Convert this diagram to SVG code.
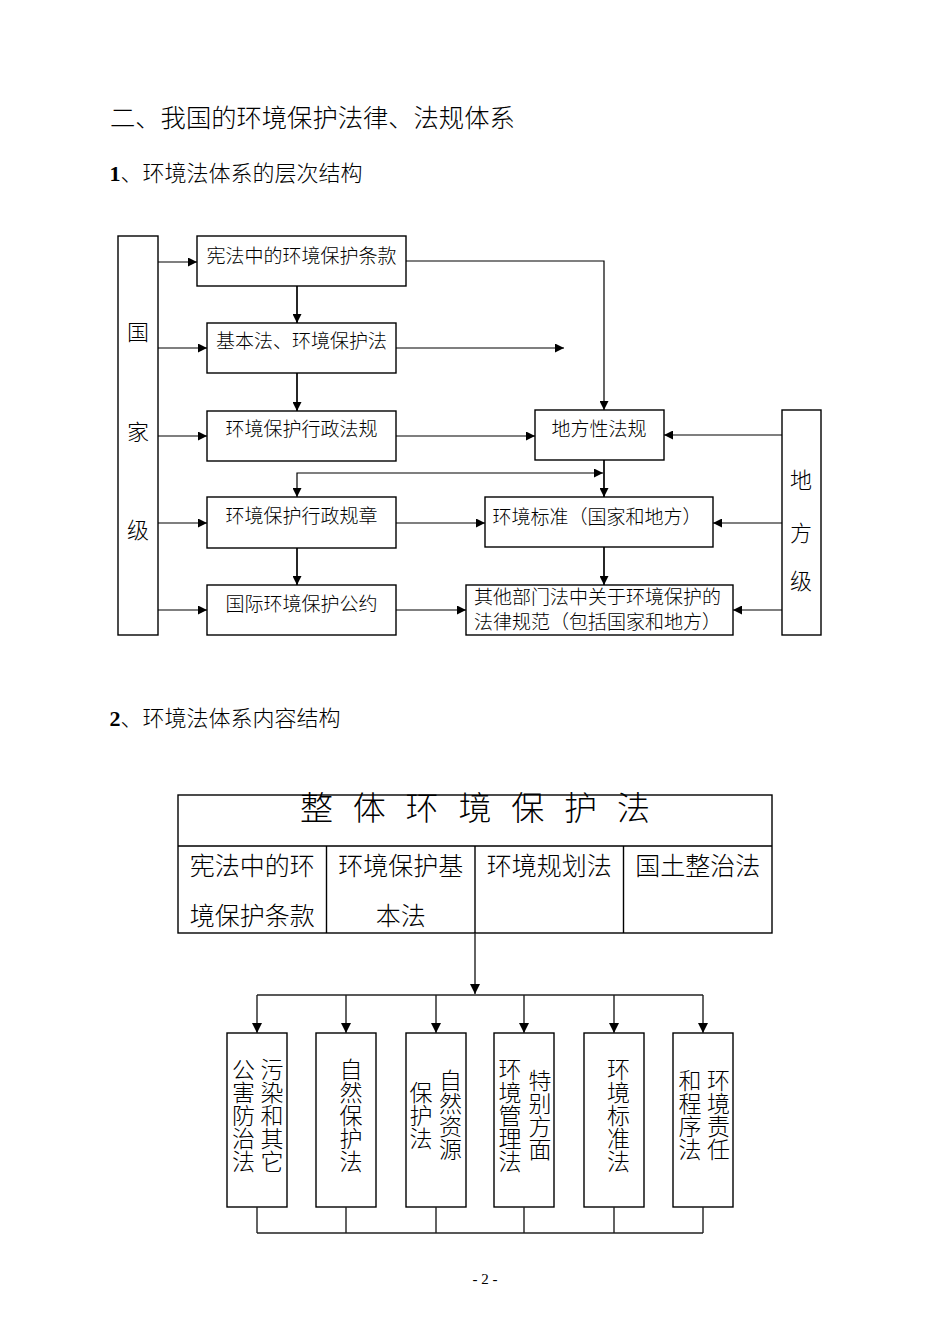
<svg xmlns="http://www.w3.org/2000/svg" width="950" height="1344" viewBox="0 0 950 1344">
<style>
  .t { font-family: "Noto Sans CJK SC", "Liberation Serif", serif; font-weight: 300; fill: #000; }
  .h1 { font-size: 25.3px; }
  .h2 { font-size: 22px; }
  .num { font-family: "Liberation Serif", serif; font-weight: bold; }
  .bx { font-size: 19px; }
  .lvl { font-size: 22px; text-anchor: middle; }
  .hd { font-size: 33px; text-anchor: middle; }
  .cell { font-size: 25px; text-anchor: middle; }
  .vt { font-size: 23px; text-anchor: middle; writing-mode: vertical-rl; text-orientation: upright; }
  .mid { text-anchor: middle; }
  .node { fill: #fff; stroke: #000; stroke-width: 1.4; }
  .conn path { fill: none; stroke: #000; stroke-width: 1.2; }
  .conn path.v { stroke-width: 1.7; }
  .conn2 path { fill: none; stroke: #222; stroke-width: 1.4; }
  .pg { font-family: "Liberation Serif", serif; font-size: 15px; text-anchor: middle; }
</style>
<defs>
  <marker id="a" viewBox="0 0 10 10" refX="10" refY="5" markerUnits="userSpaceOnUse" markerWidth="9" markerHeight="9" orient="auto-start-reverse">
    <path d="M0,0 L10,5 L0,10 z" fill="#000"/>
  </marker>
  <marker id="b" viewBox="0 0 10 10" refX="10" refY="5" markerUnits="userSpaceOnUse" markerWidth="10" markerHeight="10" orient="auto">
    <path d="M0,0 L10,5 L0,10 z" fill="#000"/>
  </marker>
</defs>
<rect width="950" height="1344" fill="#fff"/>

<text class="t h1" x="110" y="127">二、我国的环境保护法律、法规体系</text>
<text class="t h2" x="109.5" y="181"><tspan class="num">1</tspan>、环境法体系的层次结构</text>

<!-- top diagram nodes -->
<g id="guojiaji">
  <rect class="node" x="118" y="236" width="40" height="399"/>
  <text class="t lvl" x="138" y="340.4">国</text>
  <text class="t lvl" x="138" y="440.4">家</text>
  <text class="t lvl" x="138" y="538.4">级</text>
</g>
<g id="difangji">
  <rect class="node" x="782" y="410" width="39" height="225"/>
  <text class="t lvl" x="801" y="488.4">地</text>
  <text class="t lvl" x="801" y="541.4">方</text>
  <text class="t lvl" x="801" y="589.4">级</text>
</g>
<g id="xianfa">
  <rect class="node" x="197" y="236" width="209" height="50"/>
  <text class="t bx mid" x="301.5" y="263.2">宪法中的环境保护条款</text>
</g>
<g id="jibenfa">
  <rect class="node" x="207" y="323" width="189" height="50"/>
  <text class="t bx mid" x="301.5" y="348.2">基本法、环境保护法</text>
</g>
<g id="xingzhengfagui">
  <rect class="node" x="207" y="411" width="189" height="50"/>
  <text class="t bx mid" x="301.5" y="436.2">环境保护行政法规</text>
</g>
<g id="xingzhengguizhang">
  <rect class="node" x="207" y="497" width="189" height="51"/>
  <text class="t bx mid" x="301.5" y="522.7">环境保护行政规章</text>
</g>
<g id="guoji">
  <rect class="node" x="207" y="585" width="189" height="50"/>
  <text class="t bx mid" x="301.5" y="611.2">国际环境保护公约</text>
</g>
<g id="difangxingfagui">
  <rect class="node" x="535" y="410" width="129" height="50"/>
  <text class="t bx mid" x="599" y="435.5">地方性法规</text>
</g>
<g id="huanjingbiaozhun">
  <rect class="node" x="485" y="497" width="228" height="50"/>
  <text class="t bx" x="492.5" y="524">环境标准（国家和地方）</text>
</g>
<g id="qita">
  <rect class="node" x="466" y="585" width="267" height="50"/>
  <text class="t bx" x="474" y="604">其他部门法中关于环境保护的</text>
  <text class="t bx" x="474" y="629">法律规范（包括国家和地方）</text>
</g>

<g id="connectors-top" class="conn">
  <path d="M158,262 H197" marker-end="url(#a)"/>
  <path d="M158,348 H207" marker-end="url(#a)"/>
  <path d="M158,436 H207" marker-end="url(#a)"/>
  <path d="M158,523 H207" marker-end="url(#a)"/>
  <path d="M158,610 H207" marker-end="url(#a)"/>
  <path class="v" d="M297,286 V323" marker-end="url(#a)"/>
  <path class="v" d="M297,373 V411" marker-end="url(#a)"/>
  <path d="M603,473 H297 V497" marker-start="url(#a)" marker-end="url(#a)"/>
  <path class="v" d="M297,548 V585" marker-end="url(#a)"/>
  <path d="M406,261 H604 V410" marker-end="url(#a)"/>
  <path d="M396,348 H564" marker-end="url(#a)"/>
  <path d="M396,436 H535" marker-end="url(#a)"/>
  <path class="v" d="M604,460 V497" marker-end="url(#a)"/>
  <path d="M396,523 H485" marker-end="url(#a)"/>
  <path class="v" d="M604,547 V585" marker-end="url(#a)"/>
  <path d="M396,610 H466" marker-end="url(#a)"/>
  <path d="M782,435 H664" marker-end="url(#a)"/>
  <path d="M782,523 H713" marker-end="url(#a)"/>
  <path d="M782,610 H733" marker-end="url(#a)"/>
</g>

<text class="t h2" x="109.5" y="725.5"><tspan class="num">2</tspan>、环境法体系内容结构</text>

<!-- bottom diagram -->
<g id="zhengti">
  <rect class="node" x="178" y="795" width="594" height="138"/>
  <path d="M178,846 H772 M326.5,846 V933 M475,846 V933 M623.5,846 V933" fill="none" stroke="#000" stroke-width="1.4"/>
  <text class="t hd" y="819.5"><tspan x="316.5">整</tspan><tspan x="369.3">体</tspan><tspan x="422.1">环</tspan><tspan x="475">境</tspan><tspan x="527.8">保</tspan><tspan x="580.6">护</tspan><tspan x="633.5">法</tspan></text>
  <text class="t cell" x="252.25" y="874.5">宪法中的环</text>
  <text class="t cell" x="252.25" y="925">境保护条款</text>
  <text class="t cell" x="400.75" y="874.5">环境保护基</text>
  <text class="t cell" x="400.75" y="925">本法</text>
  <text class="t cell" x="549.25" y="874.5">环境规划法</text>
  <text class="t cell" x="697.75" y="874.5">国土整治法</text>
</g>

<g id="b1">
  <rect class="node" x="227" y="1033" width="60" height="174"/>
  <text class="t vt" x="272" y="1115">污染和其它</text>
  <text class="t vt" x="243.5" y="1115">公害防治法</text>
</g>
<g id="b2">
  <rect class="node" x="316" y="1033" width="60" height="174"/>
  <text class="t vt" x="351" y="1115">自然保护法</text>
</g>
<g id="b3">
  <rect class="node" x="406" y="1033" width="60" height="174"/>
  <text class="t vt" x="450.5" y="1115">自然资源</text>
  <text class="t vt" x="421" y="1115">保护法</text>
</g>
<g id="b4">
  <rect class="node" x="494" y="1033" width="60" height="174"/>
  <text class="t vt" x="540" y="1115">特别方面</text>
  <text class="t vt" x="510" y="1115">环境管理法</text>
</g>
<g id="b5">
  <rect class="node" x="584" y="1033" width="60" height="174"/>
  <text class="t vt" x="618.5" y="1115">环境标准法</text>
</g>
<g id="b6">
  <rect class="node" x="673" y="1033" width="60" height="174"/>
  <text class="t vt" x="718.5" y="1115">环境责任</text>
  <text class="t vt" x="690" y="1115">和程序法</text>
</g>

<g id="connectors-bottom" class="conn2">
  <path d="M475,933 V994" marker-end="url(#b)"/>
  <path d="M257,995 H703"/>
  <path d="M257,995 V1033" marker-end="url(#b)"/>
  <path d="M346,995 V1033" marker-end="url(#b)"/>
  <path d="M436,995 V1033" marker-end="url(#b)"/>
  <path d="M524,995 V1033" marker-end="url(#b)"/>
  <path d="M614,995 V1033" marker-end="url(#b)"/>
  <path d="M703,995 V1033" marker-end="url(#b)"/>
  <path d="M257,1207 V1233 M346,1207 V1233 M436,1207 V1233 M524,1207 V1233 M614,1207 V1233 M703,1207 V1233 M257,1233 H703"/>
</g>

<text class="pg" x="485" y="1284">- 2 -</text>
</svg>
